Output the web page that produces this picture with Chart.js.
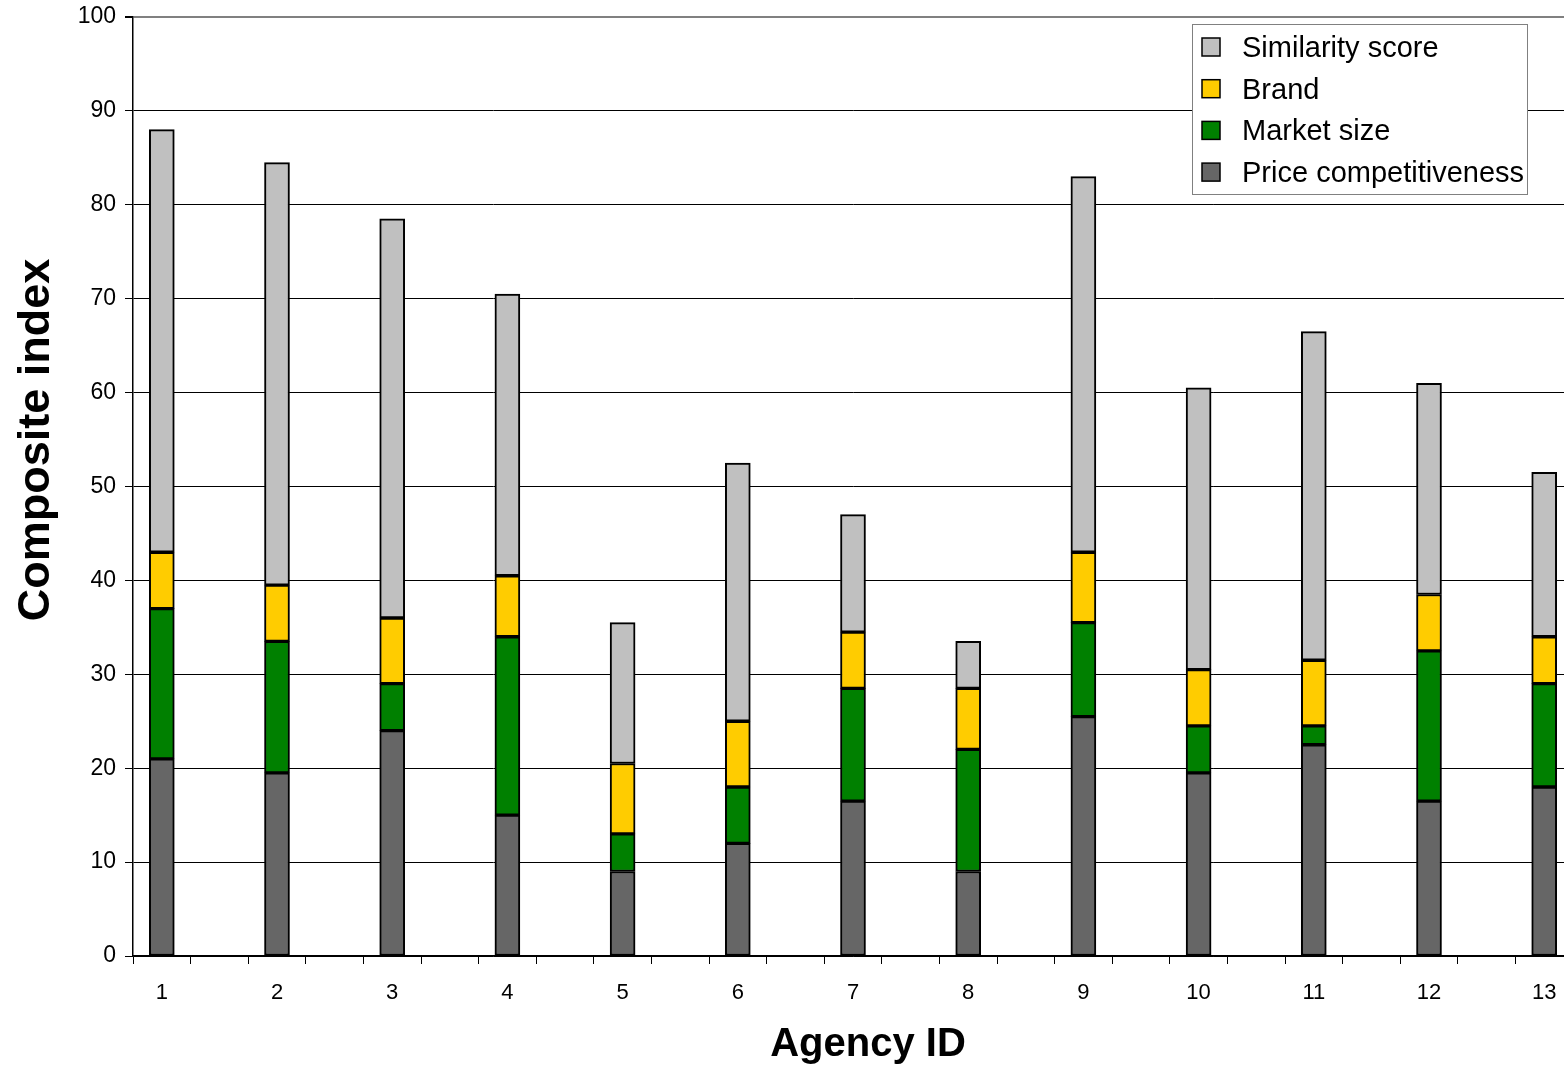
<!DOCTYPE html>
<html>
<head>
<meta charset="utf-8">
<script src="https://cdn.jsdelivr.net/npm/chart.js@4/dist/chart.umd.min.js"></script>
<style>
  html, body { margin: 0; padding: 0; background: #fff; overflow: hidden; width: 1564px; height: 1067px; }
  canvas { display: block; }
</style>
</head>
<body>
<canvas id="chart" width="1600" height="1067"></canvas>
<script>
// Agency IDs and the four components of each composite index (stacked bottom to top)
const agencies = ['1', '2', '3', '4', '5', '6', '7', '8', '9', '10', '11', '12', '13'];
const priceCompetitiveness = [21, 19.5, 24, 15, 9, 12, 16.5, 9, 25.5, 19.5, 22.5, 16.5, 18];
const marketSize = [16, 14, 5, 19, 4, 6, 12, 13, 10, 5, 2, 16, 11];
const brand = [6, 6, 7, 6.5, 7.5, 7, 6, 6.5, 7.5, 6, 7, 6, 5];
const similarityScore = [45, 45, 42.5, 30, 15, 27.5, 12.5, 5, 40, 30, 35, 22.5, 17.5];
const yTicks = [0, 10, 20, 30, 40, 50, 60, 70, 80, 90, 100];

const FONT = "'Liberation Sans', Arial, sans-serif";

// Each agency occupies every other slot on the category axis, with an empty slot between
const slotLabels = [];
agencies.forEach((a, i) => {
  if (i > 0) slotLabels.push('');
  slotLabels.push(a);
});
function spread(values) {
  const out = [];
  values.forEach((v, i) => {
    if (i > 0) out.push(null);
    out.push(v);
  });
  return out;
}

// Axis titles and a boxed legend drawn inside the plot
const decorations = {
  id: 'decorations',
  afterDraw(chart) {
    const { ctx, chartArea } = chart;
    ctx.save();
    ctx.fillStyle = '#000';
    ctx.font = 'bold 40px ' + FONT;
    ctx.textAlign = 'center';
    ctx.textBaseline = 'middle';
    ctx.fillText('Agency ID', (chartArea.left + chartArea.right) / 2 + 15, 1045);
    ctx.save();
    ctx.translate(37, 440);
    ctx.rotate(-Math.PI / 2);
    ctx.font = 'bold 45px ' + FONT;
    ctx.fillText('Composite index', 0, 0);
    ctx.restore();

    // legend box
    const bx = 1192.5, by = 24.5, bw = 335, bh = 170;
    ctx.fillStyle = '#fff';
    ctx.fillRect(bx, by, bw, bh);
    ctx.strokeStyle = '#808080';
    ctx.lineWidth = 1;
    ctx.strokeRect(bx, by, bw, bh);
    const items = chart.data.datasets.slice().reverse();
    ctx.font = '29px ' + FONT;
    ctx.textAlign = 'left';
    items.forEach((ds, i) => {
      const cy = 47 + i * 41.7;
      ctx.fillStyle = ds.backgroundColor;
      ctx.fillRect(1202, cy - 9, 18, 18);
      ctx.strokeStyle = '#000';
      ctx.lineWidth = 1.5;
      ctx.strokeRect(1202, cy - 9, 18, 18);
      ctx.fillStyle = '#000';
      ctx.fillText(ds.label, 1242, cy + 2);
    });
    ctx.restore();
  }
};

new Chart(document.getElementById('chart'), {
  type: 'bar',
  data: {
    labels: slotLabels,
    datasets: [
      { label: 'Price competitiveness', data: spread(priceCompetitiveness), backgroundColor: '#666666' },
      { label: 'Market size', data: spread(marketSize), backgroundColor: '#008000' },
      { label: 'Brand', data: spread(brand), backgroundColor: '#FFCC00' },
      { label: 'Similarity score', data: spread(similarityScore), backgroundColor: '#C0C0C0' }
    ]
  },
  options: {
    responsive: false,
    animation: false,
    layout: { padding: { top: 17, right: 27, left: 0, bottom: 0 } },
    datasets: {
      bar: { borderColor: '#000', borderWidth: 2, borderSkipped: false, barThickness: 25 }
    },
    plugins: { legend: { display: false }, tooltip: { enabled: false } },
    scales: {
      x: {
        stacked: true,
        offset: true,
        grid: { offset: true, drawOnChartArea: false, drawTicks: true, tickLength: 8, color: '#000', lineWidth: 1 },
        border: { color: '#000', width: 1.5 },
        ticks: { autoSkip: false, maxRotation: 0, minRotation: 0, padding: 16, color: '#000', font: { family: FONT, size: 22 } },
        afterFit(scale) { scale.height = 111; }
      },
      y: {
        stacked: true,
        min: 0,
        max: 100,
        afterBuildTicks(scale) { scale.ticks = yTicks.map(v => ({ value: v })); },
        grid: {
          color: ctx => (ctx.tick && ctx.tick.value === 100 ? '#808080' : '#000'),
          lineWidth: ctx => (ctx.tick && ctx.tick.value === 100 ? 2 : 1),
          tickLength: 8,
          tickColor: '#000'
        },
        border: { color: '#000', width: 1.5 },
        ticks: { padding: 9, color: '#000', font: { family: FONT, size: 23 } },
        afterFit(scale) {
          scale.width = 133;
          scale.paddingTop = 0;
          scale.paddingBottom = 0;
        }
      }
    }
  },
  plugins: [decorations]
});
</script>
</body>
</html>
